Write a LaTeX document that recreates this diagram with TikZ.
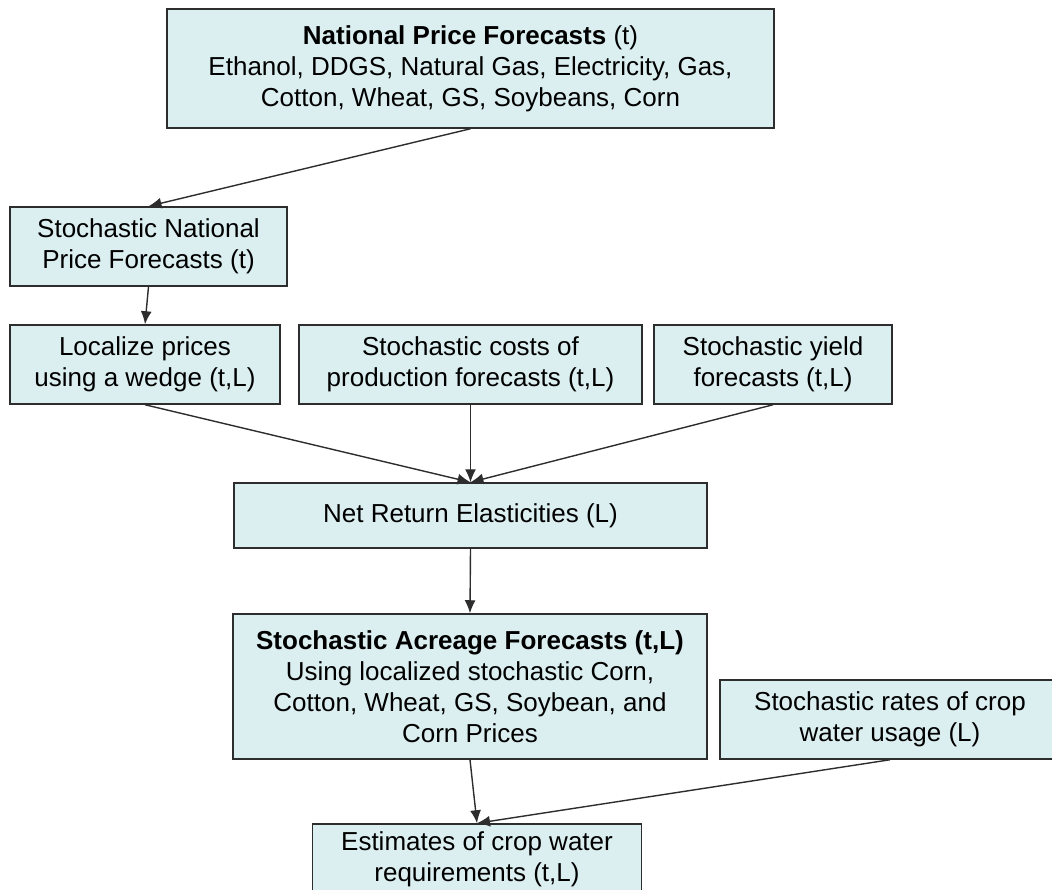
\documentclass[tikz,border=0pt]{standalone}
\usepackage{fontspec}
\setmainfont{Liberation Sans}
\usetikzlibrary{arrows.meta}
\definecolor{boxfill}{RGB}{219,238,240}
\definecolor{boxline}{RGB}{45,45,45}

\begin{document}
\begin{tikzpicture}[x=1pt, y=-1pt,
    box/.style={rectangle, draw=boxline, line width=1.5pt, fill=boxfill,
        align=center, inner sep=0pt, font=\fontsize{26}{31}\selectfont},
    flow/.style={-{Latex[length=13pt,width=11pt]}, line width=1.4pt, draw=boxline}]
    % Page frame
    \clip (0,0) rectangle (1052,890);

    % Draw national level
    \node[box, minimum width=607pt, minimum height=119pt] (npf) at (470.5,68.5)
        {\textbf{National Price Forecasts} (t)\\
         Ethanol, DDGS, Natural Gas, Electricity, Gas,\\
         Cotton, Wheat, GS, Soybeans, Corn};
    \node[box, minimum width=277pt, minimum height=79pt] (snpf) at (148.5,246.5)
        {Stochastic National\\Price Forecasts (t)};

    % Draw local level
    \node[box, minimum width=270pt, minimum height=79pt] (loc) at (145,364.5)
        {Localize prices\\using a wedge (t,L)};
    \node[box, minimum width=343pt, minimum height=79pt] (cost) at (470.5,364.5)
        {Stochastic costs of\\production forecasts (t,L)};
    \node[box, minimum width=238pt, minimum height=79pt] (yld) at (773,364.5)
        {Stochastic yield\\forecasts (t,L)};
    \node[box, minimum width=473pt, minimum height=65pt] (net) at (470.5,515.5)
        {Net Return Elasticities (L)};

    % Draw acreage and water level
    \node[box, minimum width=474pt, minimum height=145pt] (saf) at (470,686.5)
        {\textbf{Stochastic Acreage Forecasts (t,L)}\\
         Using localized stochastic Corn,\\
         Cotton, Wheat, GS, Soybean, and\\
         Corn Prices};
    \node[box, minimum width=340pt, minimum height=79pt] (wat) at (890,719.5)
        {Stochastic rates of crop\\water usage (L)};
    \node[box, minimum width=329pt, minimum height=70pt] (est) at (477,859)
        {Estimates of crop water\\requirements (t,L)};

    % Draw connections
    \draw[flow] (npf.south) -- (snpf.north);
    \draw[flow] (snpf.south) -- (loc.north);
    \foreach \src in {loc,cost,yld} {
        \draw[flow] (\src.south) -- (net.north);
    }
    \draw[flow] (net.south) -- (saf.north);
    \draw[flow] (saf.south) -- (est.north);
    \draw[flow] (wat.south) -- (est.north);
\end{tikzpicture}
\end{document}
